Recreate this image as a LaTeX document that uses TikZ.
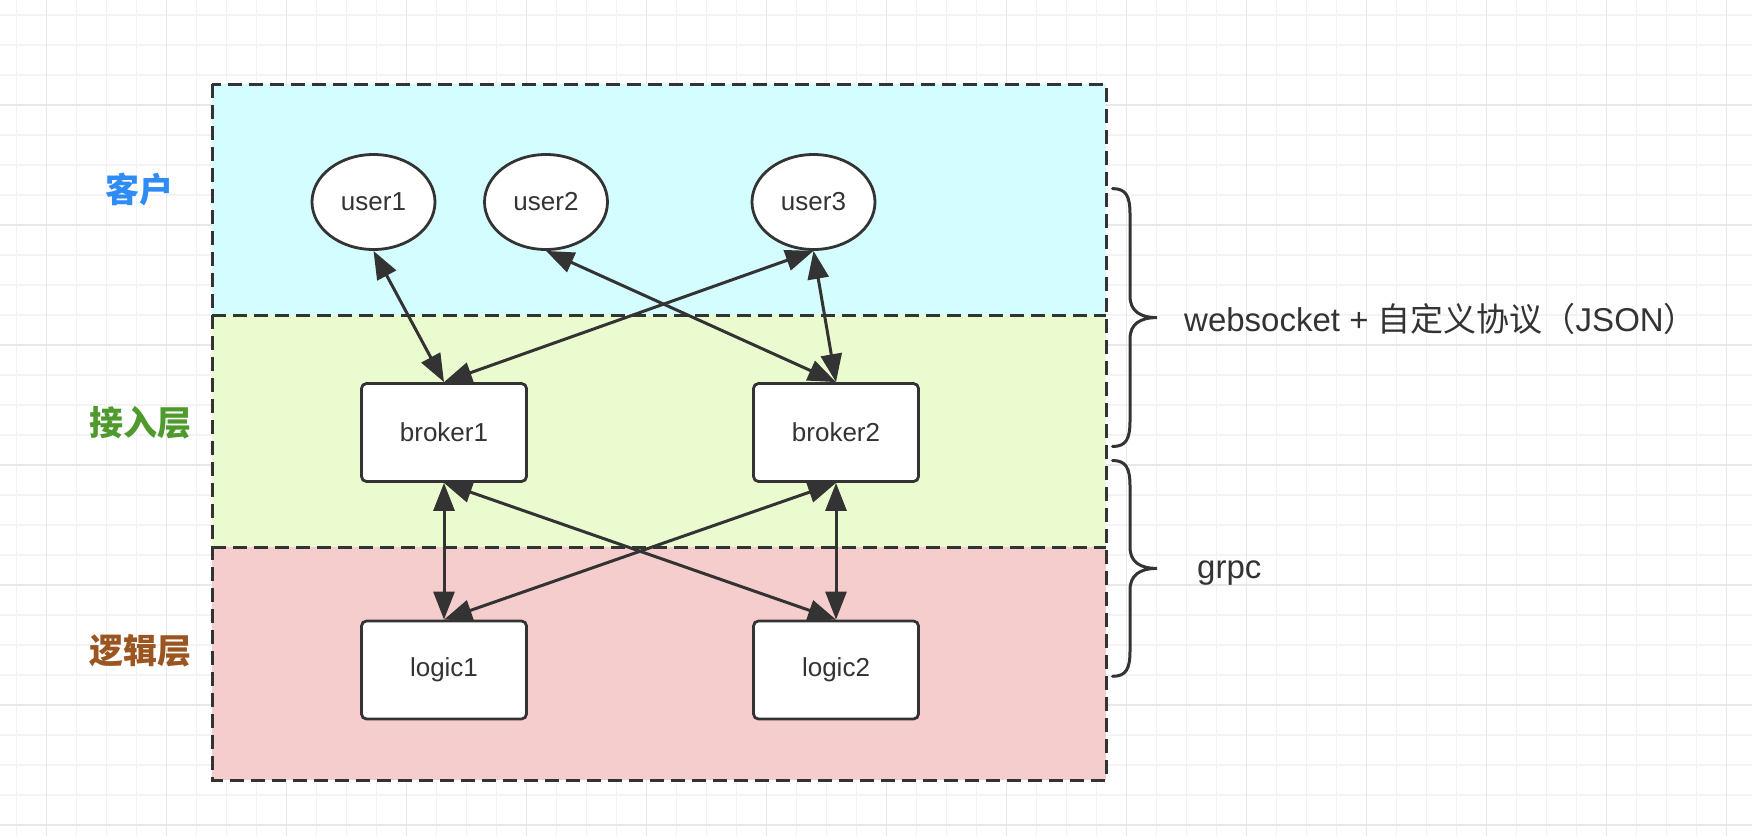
\documentclass[tikz,border=0pt]{standalone}
\usepackage{fontspec}
\setmainfont{Liberation Sans}
\newfontfamily\cjk{Noto Sans CJK SC}
\usetikzlibrary{arrows.meta,shapes.geometric}
\definecolor{ink}{HTML}{333333}
\definecolor{gridminor}{HTML}{F3F3F3}
\definecolor{gridmajor}{HTML}{E8E8E8}
\definecolor{cyanfill}{HTML}{D3FDFE}
\definecolor{greenfill}{HTML}{EAFBD0}
\definecolor{pinkfill}{HTML}{F6CDCD}
\definecolor{lblue}{HTML}{2F8CF5}
\definecolor{lgreen}{HTML}{4E9A2C}
\definecolor{lbrown}{HTML}{9A5520}
\tikzset{
  minorline/.style={draw=gridminor, line width=1.3pt},
  majorline/.style={draw=gridmajor, line width=1.3pt},
  dashbox/.style={draw=ink, line width=3pt, dash pattern=on 14pt off 7pt},
  usernode/.style={ellipse, draw=ink, fill=white, line width=2.8pt, minimum width=123pt, minimum height=95pt, inner sep=0pt, text=ink, font=\fontsize{26pt}{30pt}\selectfont},
  boxnode/.style={rectangle, rounded corners=5pt, draw=ink, fill=white, line width=2.8pt, minimum width=165pt, minimum height=98pt, inner sep=0pt, text=ink, font=\fontsize{26pt}{30pt}\selectfont},
  layerlabel/.style={inner sep=0pt, font=\cjk\bfseries\fontsize{34pt}{40pt}\selectfont},
  sidetext/.style={anchor=west, inner sep=0pt, text=ink, font=\fontsize{33pt}{40pt}\selectfont},
  biarrow/.style={draw=ink, line width=3pt, {Triangle[length=28pt,width=21pt]}-{Triangle[length=28pt,width=21pt]}},
  bracestyle/.style={draw=ink, line width=3pt, line cap=round}
}
\begin{document}
\begin{tikzpicture}[x=1pt,y=-1pt]
\useasboundingbox (0,0) rectangle (1752,836);
\fill[white] (0,0) rectangle (1752,836);
% grid
\foreach \k in {0,...,57} \draw[minorline] ({16.7+30*\k},0) -- ({16.7+30*\k},836);
\foreach \k in {0,...,27} \draw[minorline] (0,{15+30*\k}) -- (1752,{15+30*\k});
\foreach \k in {0,...,14} \draw[majorline] ({46.7+120*\k},0) -- ({46.7+120*\k},836);
\foreach \k in {0,...,6} \draw[majorline] (0,{105+120*\k}) -- (1752,{105+120*\k});
% layers
\fill[cyanfill] (212,84) rectangle (1106,315);
\fill[greenfill] (212,315) rectangle (1106,547);
\fill[pinkfill] (212,547) rectangle (1106,780);
\draw[dashbox] (212,315) -- (1106,315);
\draw[dashbox] (212,547) -- (1106,547);
\draw[dashbox] (212,84) rectangle (1106,780);
% layer labels
\node[layerlabel, text=lblue] (lclient) at (139,189) {客户};
\node[layerlabel, text=lgreen] (laccess) at (140,423) {接入层};
\node[layerlabel, text=lbrown] (llogic) at (140,651) {逻辑层};
% nodes
\node[usernode] (user1) at (373.5,202) {user1};
\node[usernode] (user2) at (546,202) {user2};
\node[usernode] (user3) at (813.5,202) {user3};
\node[boxnode] (broker1) at (444,432.5) {broker1};
\node[boxnode] (broker2) at (836,432.5) {broker2};
\node[boxnode] (logic1) at (444,670) {logic1};
\node[boxnode] (logic2) at (836,670) {logic2};
% connectors
\draw[biarrow] (user1.south) -- (broker1.north);
\draw[biarrow] (user3.south) -- (broker1.north);
\draw[biarrow] (user2.south) -- (broker2.north);
\draw[biarrow] (user3.south) -- (broker2.north);
\draw[biarrow] (broker1.south) -- (logic1.north);
\draw[biarrow] (broker1.south) -- (logic2.north);
\draw[biarrow] (broker2.south) -- (logic1.north);
\draw[biarrow] (broker2.south) -- (logic2.north);
% braces
\draw[bracestyle] (1112.5,188.6) .. controls (1126,188.6) and (1130,196) .. (1130,214)
  -- (1130,296) .. controls (1130,311) and (1140,317.6) .. (1157,317.6)
  .. controls (1140,317.6) and (1130,324) .. (1130,339)
  -- (1130,421) .. controls (1130,439) and (1126,446.5) .. (1112.5,446.5);
\draw[bracestyle] (1112.5,460.5) .. controls (1126,460.5) and (1130,468) .. (1130,486)
  -- (1130,547) .. controls (1130,562) and (1140,568.4) .. (1157,568.4)
  .. controls (1140,568.4) and (1130,575) .. (1130,590)
  -- (1130,651) .. controls (1130,669) and (1126,676.3) .. (1112.5,676.3);
% side texts
\node[sidetext] (tws) at (1184,319) {websocket + {\cjk 自定义协议（}JSON{\cjk ）}};
\node[sidetext] (tgrpc) at (1197,573) {grpc};
\end{tikzpicture}
\end{document}
